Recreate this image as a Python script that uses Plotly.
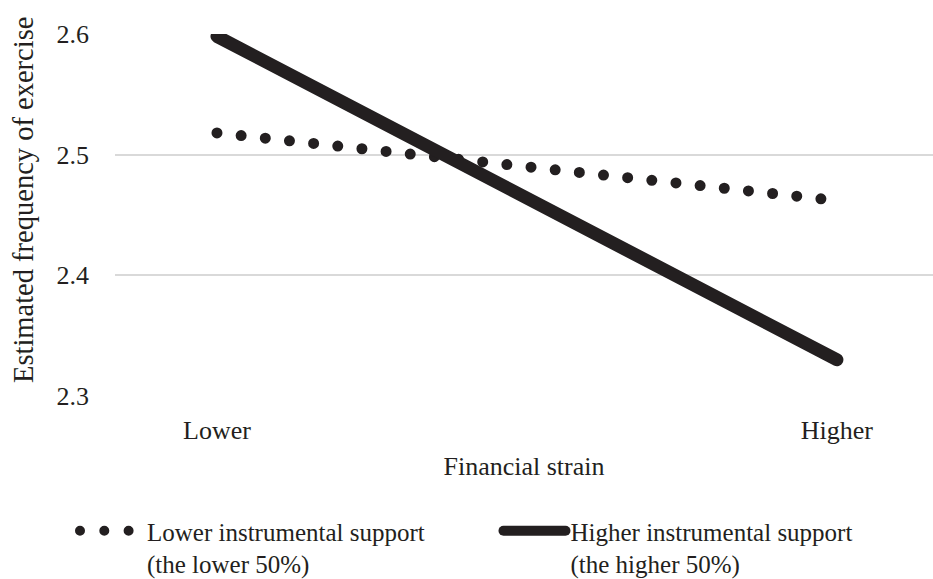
import plotly.graph_objects as go

categories = ["Lower", "Higher"]
lower_support = [2.518, 2.462]
higher_support = [2.598, 2.330]
series_names = ["Lower instrumental support" + "\u00a0" * 11 + "<br>(the lower 50%)",
                "Higher instrumental support<br>(the higher 50%)"]
y_ticks = [2.3, 2.4, 2.5, 2.6]

FONT = "Liberation Serif"
INK = "#231f20"

fig = go.Figure()
fig.add_trace(go.Scatter(
    x=categories, y=lower_support, mode="lines", name=series_names[0],
    line=dict(color=INK, width=11, dash="0px,24.3px"),
))
fig.add_trace(go.Scatter(
    x=categories, y=higher_support, mode="lines", name=series_names[1],
    line=dict(color=INK, width=13),
))

fig.update_layout(
    width=933, height=579,
    margin=dict(l=115, r=0, t=34, b=183),
    paper_bgcolor="white", plot_bgcolor="white",
    font=dict(family=FONT, size=26, color=INK),
    showlegend=True,
    legend=dict(orientation="h", xref="container", yref="container",
                x=75 / 933, xanchor="left", y=(579 - 508) / 579, yanchor="top",
                font=dict(size=25), itemwidth=62, valign="top",
                traceorder="normal", borderwidth=0),
    xaxis=dict(type="category", range=[-0.1645, 1.155], showgrid=False,
               showline=False, zeroline=False, ticks="", ticklabelstandoff=16,
               title=dict(text="Financial strain", standoff=12, font=dict(size=26))),
    yaxis=dict(range=[2.3, 2.6], tickvals=y_ticks, tickformat=".1f",
               showgrid=True, gridcolor="#d9d9d9", gridwidth=2,
               zeroline=False, showline=False, ticks="", ticklabelstandoff=25),
    annotations=[dict(text="Estimated frequency of exercise", textangle=-90,
                      xref="paper", yref="paper", x=(23 - 115) / 818, y=(396 - 200) / 362,
                      xanchor="center", yanchor="middle", showarrow=False,
                      font=dict(size=28.5, family=FONT, color=INK))],
)

post = """
document.body.style.margin = '0';
document.documentElement.style.margin = '0';
var gd = document.getElementById('{plot_id}');
function fix(){
  gd.querySelectorAll('path.js-line').forEach(function(p){p.style.strokeLinecap='round';});
}
fix();
gd.on('plotly_afterplot', fix);
"""
fig.write_html("out.html", post_script=post, config={"displayModeBar": False})
